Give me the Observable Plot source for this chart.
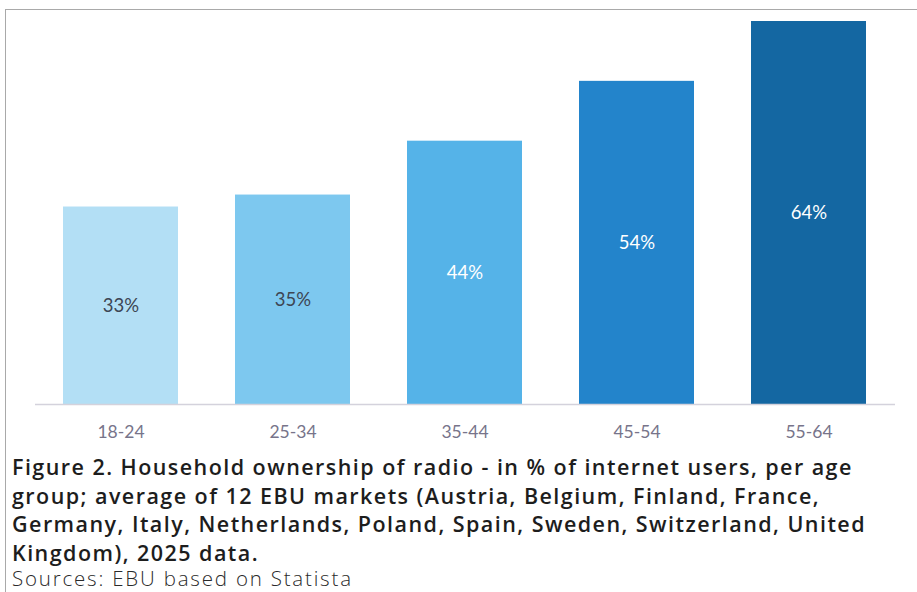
<!DOCTYPE html>
<html>
<head>
<meta charset="utf-8">
<script src="https://cdn.jsdelivr.net/npm/d3@7"></script>
<script src="https://cdn.jsdelivr.net/npm/@observablehq/plot@0.6"></script>
<style>
  html, body { margin: 0; padding: 0; background: #fff; }
  #wrap { position: relative; width: 917px; height: 592px; overflow: hidden; background: #fff; }
  #frame { position: absolute; left: 5px; top: 9px; width: 920px; height: 600px;
           border-top: 1.5px solid #a9a9a9; border-left: 1.5px solid #a9a9a9; }
  #chart { position: absolute; left: 0; top: 0; }
  #caption { position: absolute; left: 12px; top: 453px; white-space: nowrap;
             font-family: "Open Sans", sans-serif; font-weight: 600; font-size: 21.5px;
             line-height: 28.5px; color: #1d1d1d; letter-spacing: 1.45px; }
  #source { position: absolute; left: 12px; top: 567px; white-space: nowrap;
            font-family: "Open Sans", sans-serif; font-weight: 300; font-size: 20.5px;
            line-height: 22px; color: #2a2a2a; letter-spacing: 1.8px; }
</style>
</head>
<body>
<div id="wrap">
  <div id="frame"></div>
  <div id="chart"></div>
  <div id="caption">Figure 2. Household ownership of radio - in % of internet users, per age<br>group; average of 12 EBU markets (Austria, Belgium, Finland, France,<br>Germany, Italy, Netherlands, Poland, Spain, Sweden, Switzerland, United<br>Kingdom), 2025 data.</div>
  <div id="source">Sources: EBU based on Statista</div>
</div>
<script>
const ageGroups = ["18-24", "25-34", "35-44", "45-54", "55-64"];
const values = [33, 35, 44, 54, 64];
const barColors = ["#b3dff5", "#7dc8ef", "#55b3e8", "#2384cb", "#1467a2"];
const labelColors = ["#3d4654", "#3d4654", "#ffffff", "#ffffff", "#ffffff"];

const data = ageGroups.map((g, i) => ({
  group: g, value: values[i], fill: barColors[i], textColor: labelColors[i],
  label: values[i] + "%"
}));

const chart = Plot.plot({
  width: 917,
  height: 445,
  marginTop: 21,
  marginBottom: 41,
  marginLeft: 35,
  marginRight: 22,
  style: { background: "transparent", fontFamily: "Lato, sans-serif" },
  x: { domain: ageGroups, paddingInner: 0.33, paddingOuter: 0.165, label: null },
  y: { domain: [0, 64], axis: null },
  marks: [
    Plot.barY(data, { x: "group", y: "value", fill: "fill" }),
    Plot.ruleY([0], { stroke: "#d4d2dc", strokeWidth: 1.5 }),
    Plot.text(data, {
      x: "group", y: d => d.value / 2, text: "label", fill: "textColor",
      fontSize: 18.5, fontFamily: "Lato, sans-serif"
    }),
    Plot.axisX({
      tickSize: 0, tickPadding: 21, fontSize: 17.5, color: "#77748a",
      fontFamily: "Lato, sans-serif", label: null
    })
  ]
});
document.getElementById("chart").appendChild(chart);
</script>
</body>
</html>
